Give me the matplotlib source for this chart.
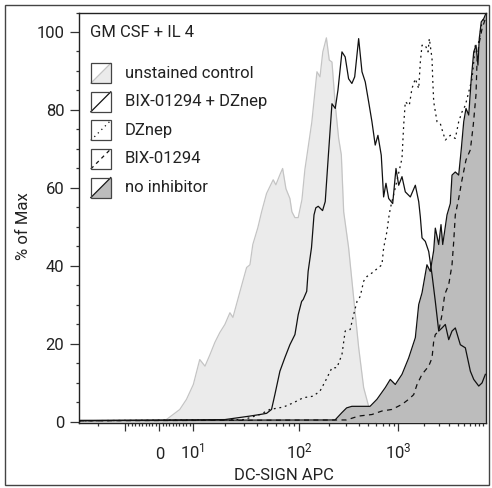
import numpy as np
import matplotlib
matplotlib.use('Agg')
import matplotlib.pyplot as plt
from matplotlib.patches import Rectangle, Polygon
from matplotlib.lines import Line2D

plt.rcParams['font.family'] = ['Roboto', 'DejaVu Sans']
plt.rcParams['mathtext.fontset'] = 'custom'
plt.rcParams['mathtext.rm'] = 'Roboto'
plt.rcParams['mathtext.it'] = 'Roboto'
plt.rcParams['text.color'] = '#222222'

# histogram traces, x in DC-SIGN APC units, y in % of max
unstained_x = [1, 2.1, 6.1, 8.1, 10.1, 11.6, 13.0, 14.5, 16.1, 17.9, 20.0, 22.3, 23.8, 27.7,
               32.0, 34.4, 36.6, 40.8, 44.3, 49.3, 56.9, 60.3, 65.8, 69.8, 75.0, 81.7, 85.3,
               91.1, 97.8, 106.5, 114, 122, 134, 151, 162, 173, 188, 201, 214, 231, 250, 266,
               281, 315, 354, 398, 447, 502, 542, 595]
unstained_y = [0, 0.6, 3.2, 5.8, 9.6, 16.0, 14.3, 17.3, 20.4, 22.9, 25.0, 28.0, 26.8, 33.4,
               39.6, 40.3, 45.5, 49.8, 53.9, 58.6, 62.1, 60.8, 63.4, 65.0, 59.8, 57.3, 53.9,
               52.4, 52.4, 57.0, 64.7, 69.8, 76.9, 89.8, 88.5, 94.9, 98.5, 92.8, 92.3, 81.3,
               72.7, 68.5, 53.9, 44.7, 31.9, 19.1, 8.8, 4.0, 1.4, 0]

bix_dznep_x = [-32, 20, 34.4, 42.7, 49.3, 54.9, 59.0, 65.8, 73.3, 81.7, 91.1, 94.5, 97.8, 105.7,
               109.7, 119, 123, 133, 141, 147, 155.5, 172, 183, 198, 214, 231, 246, 270, 291,
               315, 340, 363, 398, 430, 464, 502, 542, 585, 623, 673, 711, 751, 800, 878, 948,
               1011, 1106, 1210, 1387, 1589, 1742, 1820, 1906, 2084, 2286, 2500, 2735, 3000,
               3281, 3589, 3936, 4305, 4709, 5397, 6185, 7088, 7770, 8900, 9730, 10650]
bix_dznep_y = [0.3, 0.6, 1.5, 1.9, 2.2, 3.2, 7.0, 13.0, 16.5, 19.8, 22.4, 25.0, 27.5, 30.9,
               31.4, 33.5, 38.6, 44.7, 53.1, 54.9, 55.3, 54.2, 56.5, 69.3, 81.6, 80.4, 85.1,
               94.9, 93.6, 88.0, 86.8, 88.5, 98.3, 89.8, 87.2, 82.1, 77.0, 71.0, 73.5, 68.4,
               57.7, 61.2, 57.3, 56.0, 65.0, 60.7, 62.9, 59.0, 57.7, 60.7, 56.5, 52.6, 47.2,
               46.3, 43.7, 37.8, 30.9, 23.3, 24.1, 25.0, 21.1, 23.3, 24.1, 19.8, 19.0, 13.0,
               10.9, 9.2, 10.0, 12.2]

dznep_x = [-32, 30, 42.7, 53.0, 70.8, 87.9, 109.7, 138, 162, 183, 214, 240, 270, 291, 327, 354,
           383, 413, 447, 483, 542, 684, 711, 769, 800, 830, 948, 1106, 1158, 1210, 1349, 1449,
           1589, 1742, 1820, 1906, 2084, 2243, 2324, 2500, 2547, 2618, 2864, 3134, 3345, 3589,
           4112, 4709, 5163, 5648, 6185, 6781, 7417, 8115, 8900, 9730, 10650]
dznep_y = [0.3, 0.6, 1.9, 3.2, 3.8, 4.9, 6.2, 6.6, 7.9, 10.4, 13.9, 13.9, 17.3, 23.3, 23.7, 27.5,
           30.9, 32.2, 36.1, 37.3, 38.2, 40.3, 44.6, 48.9, 52.3, 54.7, 60.8, 67.6, 76.1, 82.1,
           81.2, 85.5, 88.0, 85.5, 92.3, 96.6, 96.6, 94.9, 98.3, 93.2, 88.0, 82.1, 77.0, 76.5,
           74.4, 72.3, 73.5, 72.7, 77.0, 79.5, 81.2, 84.6, 88.0, 96.6, 97.4, 102.6, 104.1]

bix_x = [-32, 300, 398, 542, 684, 863, 1106, 1326, 1520, 1665, 1906, 2286, 2500, 2618, 2735,
         3000, 3281, 3532, 3936, 4305, 4509, 4709, 5163, 5648, 6295, 7088, 7674, 8260, 8490,
         8900, 9730, 10650]
bix_y = [0.3, 0.5, 1.5, 1.9, 2.8, 3.2, 4.5, 5.8, 7.0, 9.6, 12.2, 14.3, 16.4, 20.7, 22.4,
         23.3, 27.5, 32.7, 35.2, 40.3, 46.3, 53.1, 57.3, 62.1, 67.2, 69.8, 76.2, 83.9, 92.3,
         96.6, 100.8, 103.4]

none_x = [-32, 230, 270, 301, 340, 519, 609, 739, 830, 933, 1106, 1326, 1589, 1742, 1906, 2178,
          2387, 2618, 2735, 3000, 3192, 3345, 3758, 4112, 4305, 4709, 5163, 5546, 5918, 6295,
          6781, 7262, 7770, 8260, 8710, 9030, 9530, 10180, 10940]
none_y = [0.4, 0.5, 2.4, 3.6, 4.0, 4.0, 5.8, 8.8, 10.9, 9.6, 12.2, 16.4, 21.6, 30.1, 33.1, 40.3,
          38.6, 44.0, 49.7, 45.5, 50.6, 45.5, 53.1, 56.0, 63.3, 64.1, 63.3, 70.1, 77.0, 80.4,
          78.7, 88.0, 94.9, 96.6, 91.5, 98.3, 102.6, 103.4, 105]

legend_labels = ['unstained control', 'BIX-01294 + DZnep', 'DZnep', 'BIX-01294', 'no inhibitor']
title_text = 'GM CSF + IL 4'

# biexponential-style display: linear within +-10, log decades outside,
# each segment with its own width on screen
knot_t = np.array([-3, -2, -1, 0, 1, 2, 3, 4, 5])
knot_u = np.concatenate([[0], np.cumsum([90.7, 90.7, 34.5, 33.5, 106.3, 99.0, 84.7, 84.7])])


def to_t(v):
    v = np.asarray(v, dtype=float)
    a = np.abs(v)
    return np.where(a <= 10, v / 10, np.sign(v) * (1 + np.log10(np.maximum(a, 10) / 10)))


def from_t(t):
    t = np.asarray(t, dtype=float)
    a = np.abs(t)
    return np.where(a <= 1, t * 10, np.sign(t) * 10 ** np.maximum(a, 1))


def fwd(v):
    return np.interp(to_t(v), knot_t, knot_u)


def inv(u):
    return from_t(np.interp(u, knot_u, knot_t))


W, H = 492, 488
fig = plt.figure(figsize=(W / 100, H / 100), dpi=100)
fig.patches.append(Rectangle((4.5 / W, 3.5 / H), 484.5 / W, 480 / H, transform=fig.transFigure,
                             fill=False, edgecolor='#444444', lw=1.0))
ax = fig.add_axes([79 / W, 1 - 422.7 / H, 407 / W, 410.2 / H])
ax.set_xscale('function', functions=(fwd, inv))
ax.set_xlim(-32, 10840)
ax.set_ylim(-0.2, 105)

light_fill, light_edge = '#ebebeb', '#c4c4c4'
dark_fill = '#bcbcbc'

ax.fill_between(unstained_x, unstained_y, color=light_fill, lw=0, zorder=1)
ax.plot(unstained_x, unstained_y, color=light_edge, lw=0.9, zorder=1.5)
ax.fill_between(none_x, none_y, color=dark_fill, lw=0, zorder=2)
ax.plot(none_x, none_y, color='#111111', lw=0.9, zorder=2.5)
ax.plot(bix_dznep_x, bix_dznep_y, color='#111111', lw=0.9, zorder=3)
ax.plot(dznep_x, dznep_y, color='#111111', lw=0.9, ls=(0, (1.5, 3)), zorder=3)
ax.plot(bix_x, bix_y, color='#111111', lw=0.9, ls=(0, (4, 3.5)), zorder=3)

for s in ax.spines.values():
    s.set_color('#222222')
    s.set_linewidth(1.0)

ax.set_yticks(np.arange(0, 101, 20))
ax.set_yticks(np.arange(0, 106, 5), minor=True)
ax.tick_params(axis='y', which='major', length=6.5, width=0.9, pad=4, labelsize=12,
               color='#333333', labelcolor='#222222')
ax.tick_params(axis='y', which='minor', length=2.5, width=0.9, color='#333333')

ax.set_xticks([-10, 0, 10, 100, 1000], labels=['', '0', r'$10^1$', r'$10^2$', r'$10^3$'])
minor = ([-20] + list(range(-9, 0)) + list(range(1, 10)) + list(range(20, 100, 10))
         + list(range(200, 1000, 100)) + list(range(2000, 10001, 1000)))
ax.set_xticks(minor, minor=True)
ax.tick_params(axis='x', which='major', length=6, width=0.9, pad=20, labelsize=12,
               color='#333333', labelcolor='#222222')
ax.tick_params(axis='x', which='minor', length=2.5, width=0.9, color='#333333')
for lab in ax.get_xticklabels():
    lab.set_va('baseline')

fig.text(24 / W, 1 - 226 / H, '% of Max', rotation=90, ha='center', va='center', fontsize=12)
fig.text(283.5 / W, 1 - 475 / H, 'DC-SIGN APC', ha='center', va='center', fontsize=12)

# legend: boxed swatch with the line style on the diagonal and the fill below it
ax.text(0.027, 0.952, title_text, transform=ax.transAxes, ha='left', va='center', fontsize=12)
styles = [(light_fill, light_edge, '-'), ('white', '#111111', '-'),
          ('white', '#111111', (0, (1, 3))), ('white', '#111111', (0, (3, 3))),
          (dark_fill, '#111111', '-')]
bw, bh = 20 / 407, 20 / 410.2
for i, (lab, (fc, lc, ls)) in enumerate(zip(legend_labels, styles)):
    yc = 0.852 - i * 0.0697
    x0, y0 = 0.029, yc - bh / 2
    ax.add_patch(Polygon([(x0, y0), (x0 + bw, y0), (x0 + bw, y0 + bh)], closed=True,
                         transform=ax.transAxes, facecolor=fc, edgecolor='none', zorder=5))
    ax.add_line(Line2D([x0, x0 + bw], [y0, y0 + bh], transform=ax.transAxes, color=lc,
                       lw=0.9, ls=ls, zorder=6))
    ax.add_patch(Rectangle((x0, y0), bw, bh, transform=ax.transAxes, fill=False,
                           edgecolor='#444444', lw=0.9, zorder=7))
    ax.text(0.113, yc, lab, transform=ax.transAxes, ha='left', va='center', fontsize=12)

fig.savefig('out.png', dpi=100)
